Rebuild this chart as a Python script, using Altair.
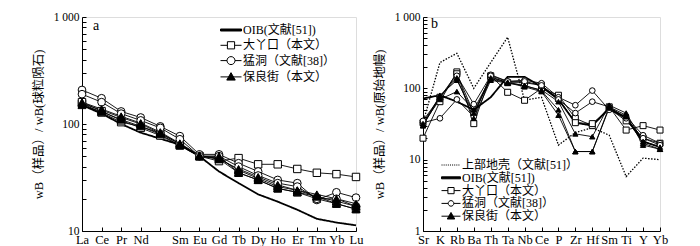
import altair as alt
import pandas as pd

# ---------------- panel a : chondrite-normalised REE ----------------
ree = ["La", "Ce", "Pr", "Nd", "Pm", "Sm", "Eu", "Gd", "Tb", "Dy", "Ho", "Er", "Tm", "Yb", "Lu"]
ree_oib   = [150, 125, 100, 83, None, 64, 50, 36, 28, 22, 18.8, 15.8, 13, 12, 11.3]
ree_dyk_1 = [155, 128, 104, 95, 82, 65, 50, 45, 48, 42, 42, 38, 35, 34, 32]
ree_dyk_2 = [160, 132, 108, 92, 78, 63, 50, 47, 35, 30, 25, 23, 20, 18, 16]
ree_md_1  = [208, 174, 131, 115, 95, 77, 52, 52, 43, 36, 30, 28, 19.5, 23, 20.5]
ree_md_2  = [190, 160, 125, 108, 92, 72, 50, 50, 40, 33, 28, 26, 20, 20, 17]
ree_blj_1 = [155, 135, 115, 100, 82, 65, 50, 48, 37, 31, 26, 24, 21, 19, 17]
ree_blj_2 = [150, 130, 110, 95, 80, 63, 50, 50, 35, 30, 25, 23, 21, 18, 16]
ree_blj_3 = [160, 138, 118, 102, 84, 66, 51, 47, 38, 32, 27, 24, 22, 20, 18]

# ---------------- panel b : primitive-mantle-normalised spider ----------------
spider = ["Sr", "K", "Rb", "Ba", "Th", "Ta", "Nb", "Ce", "P", "Zr", "Hf", "Sm", "Ti", "Y", "Yb"]
sp_uc    = [33, 230, 310, 100, 230, 520, 68, 75, 16, 24, 28, 22, 5.8, 10.5, 10]
sp_oib   = [72, 80, 65, 50, 75, 145, 145, 105, 70, 33, 30, 52, 38, 18, 15]
sp_dyk_1 = [20, 65, 170, 32, 150, 88, 68, 100, 80, 38, 30, 55, 26, 30, 26]
sp_dyk_2 = [33, 75, 160, 45, 145, 120, 120, 110, 72, 33, 32, 52, 35, 20, 17]
sp_md_1  = [33, 38, 70, 40, 155, 125, 130, 118, 75, 58, 93, 50, 40, 22, 17]
sp_md_2  = [35, 75, 150, 60, 150, 125, 125, 110, 70, 45, 65, 55, 38, 20, 16]
sp_blj_1 = [30, 80, 130, 45, 135, 120, 105, 90, 42, 13, 13, 55, 42, 16, 14]
sp_blj_2 = [32, 70, 90, 50, 140, 122, 108, 95, 65, 23, 21, 58, 45, 18, 15]
sp_blj_3 = [30, 75, 140, 38, 130, 118, 110, 92, 50, 13, 13, 53, 40, 17, 14]

groups = ["大丫口", "猛洞", "保良街"]
legend_a = ["OIB(文献[51])", "大丫口（本文）", "猛洞（文献[38]）", "保良街（本文）"]
legend_b = ["上部地壳（文献[51]）", "OIB(文献[51])", "大丫口（本文）", "猛洞（文献[38]）", "保良街（本文）"]
ticks_a = [10, 20, 30, 40, 50, 60, 70, 80, 90, 100, 200, 300, 400, 500, 600, 700, 800, 900, 1000]
ticks_b = [1, 2, 3, 4, 5, 6, 7, 8, 9] + ticks_a

SERIF = "Liberation Serif"
MIXED = "Liberation Serif, Noto Sans CJK SC"


def long_table(cats, series):
    rows = []
    for g, s, vals in series:
        for i, (c, v) in enumerate(zip(cats, vals)):
            if v is not None:
                rows.append({"elem": c, "value": v, "group": g, "sample": s, "order": i})
    return pd.DataFrame(rows)


# ---- legend symbol paths (units of sqrt(symbolSize)/2 px) ----
def seg(L, m):
    return f"M{-L},0H{-m}M{m},0H{L}"


def sq(h):
    return f"M{-h},{-h}H{h}V{h}H{-h}Z"


def ci(r):
    return f"M{-r},0A{r},{r} 0 1,1 {r},0A{r},{r} 0 1,1 {-r},0Z"


def tr(h):
    return f"M0,{-h}L{h},{h * 0.75}H{-h}Z"


def thick(L, t):
    return f"M{-L},{-t}H{L}V{t}H{-L}Z"


def dotted(L, n):
    step = 2 * L / n
    return "".join(f"M{-L + k * step:.3f},0H{-L + k * step + step * 0.5:.3f}" for k in range(n))


def legend_layer(domain, paths, fills, lx, ly, row_pad, label_offset):
    ldf = pd.DataFrame({"group": domain})
    kw = dict(orient="none", legendX=lx, legendY=ly, title=None, symbolSize=100,
              symbolStrokeWidth=1, symbolStrokeColor="black", symbolOpacity=1,
              labelFont=MIXED, labelFontSize=12, labelColor="black",
              labelOffset=label_offset, rowPadding=row_pad, padding=0)
    return alt.Chart(ldf).mark_point(filled=True, strokeWidth=1, opacity=1).encode(
        shape=alt.Shape("group:N", scale=alt.Scale(domain=domain, range=paths), legend=alt.Legend(**kw)),
        fill=alt.Fill("group:N", scale=alt.Scale(domain=domain, range=fills), legend=alt.Legend(**kw)),
        stroke=alt.Stroke("group:N", scale=alt.Scale(domain=domain, range=["black"] * len(domain)),
                          legend=alt.Legend(**kw)),
    ).transform_filter("datum.group == '__none__'")


def build_panel(cats, ref_lines, sample_df, ydomain, yticks, ytitle, letter, letter_xy,
                width, height, legend, label_expr, msize):
    x = alt.X("elem:N", scale=alt.Scale(type="point", domain=cats, padding=0),
              axis=alt.Axis(title=None, labelAngle=0, labelFont=SERIF, labelFontSize=12.5,
                            labelColor="black", labelPadding=6, labelOverlap=False, grid=False,
                            tickSize={"expr": "-4"}, tickColor="black", domainColor="black",
                            labelExpr=label_expr))
    y = alt.Y("value:Q", scale=alt.Scale(type="log", domain=ydomain, nice=False),
              axis=alt.Axis(values=yticks, tickSize={"expr": "-4"}, tickColor="black", grid=False,
                            domainColor="black", labelFont=SERIF, labelFontSize=11.5,
                            labelColor="black", labelPadding=7,
                            labelExpr="datum.value == 1000 ? '1 000' : (datum.value == 100 ? '100' : (datum.value == 10 ? '10' : (datum.value == 1 ? '1' : '')))",
                            title=ytitle, titleFont=MIXED, titleFontSize=12.5,
                            titleFontWeight="normal", titleColor="black", titlePadding=8))
    layers = []
    for df, width_px, dash in ref_lines:
        layers.append(alt.Chart(df).mark_line(color="black", strokeWidth=width_px,
                                               strokeDash=dash).encode(x=x, y=y, order="order:Q"))
    layers.append(alt.Chart(sample_df).mark_line(color="black", strokeWidth=0.9).encode(
        x=x, y=y, detail="sample:N", order="order:Q"))
    layers.append(alt.Chart(sample_df).mark_point(filled=True, stroke="black", strokeWidth=1,
                                                   opacity=1).encode(
        x=x, y=y,
        shape=alt.Shape("group:N", scale=alt.Scale(domain=groups, range=["square", "circle", "triangle-up"]),
                        legend=None),
        fill=alt.Fill("group:N", scale=alt.Scale(domain=groups, range=["white", "white", "black"]),
                      legend=None),
        size=alt.Size("group:N", scale=alt.Scale(domain=groups, range=msize), legend=None),
    ))
    layers.append(legend)
    layers.append(alt.Chart(pd.DataFrame({"t": [letter]})).mark_text(
        font=SERIF, fontSize=14, align="left", baseline="middle", color="black").encode(
        text="t:N", x=alt.value(letter_xy[0]), y=alt.value(letter_xy[1])))
    return alt.layer(*layers).resolve_scale(shape="independent", fill="independent",
                                            stroke="independent",
                                            size="independent").properties(width=width, height=height)


# ---- panel a ----
oib_a = long_table(ree, [("OIB", "oib", ree_oib)])
samples_a = long_table(ree, [
    ("大丫口", "d1", ree_dyk_1), ("大丫口", "d2", ree_dyk_2),
    ("猛洞", "m1", ree_md_1), ("猛洞", "m2", ree_md_2),
    ("保良街", "b1", ree_blj_1), ("保良街", "b2", ree_blj_2), ("保良街", "b3", ree_blj_3),
])
paths_a = [thick(2.1, 0.2), seg(2.1, 0.75) + sq(0.72), seg(2.1, 0.8) + ci(0.8), "M-2.1,0H2.1" + tr(0.85)]
leg_a = legend_layer(legend_a, paths_a, ["black", "white", "white", "black"], 143, 7, 3.3, 6)
panel_a = build_panel(ree, [(oib_a, 1.8, [1, 0])], samples_a, [10, 1000], ticks_a,
                      "wB（样品）/ wB(球粒陨石)", "a", (11, 9), 274, 214, leg_a,
                      "datum.value == 'Pm' ? '' : datum.value", [55, 64, 70])

# ---- panel b ----
uc_b = long_table(spider, [("UC", "uc", sp_uc)])
oib_b = long_table(spider, [("OIB", "oib", sp_oib)])
samples_b = long_table(spider, [
    ("大丫口", "d1", sp_dyk_1), ("大丫口", "d2", sp_dyk_2),
    ("猛洞", "m1", sp_md_1), ("猛洞", "m2", sp_md_2),
    ("保良街", "b1", sp_blj_1), ("保良街", "b2", sp_blj_2), ("保良街", "b3", sp_blj_3),
])
paths_b = [dotted(1.9, 9), thick(1.9, 0.2), seg(1.9, 0.62) + sq(0.62), seg(1.9, 0.56) + ci(0.56),
           "M-1.9,0H1.9" + tr(0.75)]
leg_b = legend_layer(legend_b, paths_b, ["white", "black", "white", "white", "black"], 22, 142, 0.8, 5)
panel_b = build_panel(spider, [(uc_b, 1.3, [1.5, 1.5]), (oib_b, 1.8, [1, 0])], samples_b, [1, 1000],
                      ticks_b, "wB（样品）/ wB(原始地幔)", "b", (8, 7), 237, 214, leg_b,
                      "datum.value", [36, 28, 45])

chart = alt.hconcat(panel_a, panel_b, spacing=8).properties(
    padding={"left": 31, "top": 10, "right": 0, "bottom": 0},
).configure_view(stroke="black", strokeWidth=1).configure(background="white")

chart.save("out.html", embed_options={"renderer": "svg", "actions": False})
